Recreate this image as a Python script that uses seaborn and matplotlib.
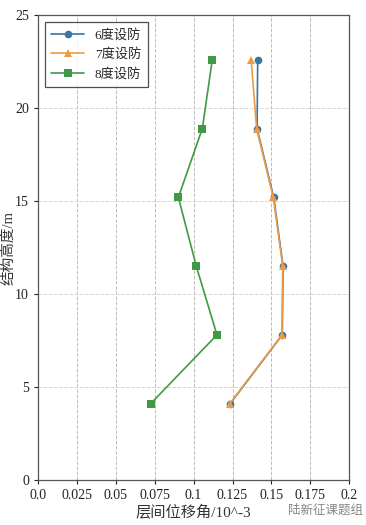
import numpy as np
import pandas as pd
import matplotlib
matplotlib.use('Agg')
import matplotlib.pyplot as plt
import seaborn as sns

heights = [4.1, 7.8, 11.5, 15.2, 18.9, 22.6]
drift_6 = [0.1235, 0.1570, 0.1575, 0.1515, 0.1408, 0.1412]
drift_7 = [0.1232, 0.1568, 0.1573, 0.1512, 0.1405, 0.1370]
drift_8 = [0.0724, 0.1150, 0.1017, 0.0902, 0.1056, 0.1120]
labels = ['6度设防', '7度设防', '8度设防']
x_ticks = [0.0, 0.025, 0.05, 0.075, 0.1, 0.125, 0.15, 0.175, 0.2]
x_ticklabels = ['0.0', '0.025', '0.05', '0.075', '0.1', '0.125', '0.15', '0.175', '0.2']
y_ticks = [0, 5, 10, 15, 20, 25]

rows = []
for lab, vals in zip(labels, [drift_6, drift_7, drift_8]):
    for h, v in zip(heights, vals):
        rows.append({'level': lab, 'drift': v, 'height': h})
df = pd.DataFrame(rows)

sns.set_style('ticks')
fonts = ['Liberation Serif', 'Noto Sans CJK SC', 'DejaVu Sans']
plt.rcParams['font.family'] = fonts

fig = plt.figure(figsize=(3.66, 5.25), dpi=100)
ax = fig.add_axes([0.104, 0.086, 0.850, 0.885])

palette = ['#3b75a0', '#ee9a45', '#3e9a45']
sns.lineplot(data=df, x='drift', y='height', hue='level', style='level',
             markers=['o', '^', 's'], dashes=False, sort=False, orient='y',
             palette=palette, markersize=5.5, linewidth=1.2, markeredgewidth=0,
             ax=ax)

ax.set_xlim(0, 0.2)
ax.set_ylim(0, 25)
ax.set_xticks(x_ticks)
ax.set_xticklabels(x_ticklabels)
ax.set_yticks(y_ticks)
ax.tick_params(labelsize=10, length=3, colors='#222222', direction='out')
ax.grid(True, axis='x', linestyle='--', color='#bbbbbb', linewidth=0.7)
ax.grid(True, axis='y', linestyle='--', color='#d6d6d6', linewidth=0.7)
for s in ax.spines.values():
    s.set_color('#555555')
    s.set_linewidth(0.9)

ax.set_xlabel('层间位移角/10^-3', fontsize=11, color='#333333', labelpad=2)
ax.set_ylabel('结构高度/m', fontsize=10.5, color='#333333')
ax.yaxis.set_label_coords(-0.072, 0.5)

leg = ax.legend(loc='upper left', fontsize=9.5, frameon=True, fancybox=False,
                borderpad=0.5, handlelength=2.5, labelspacing=0.5)
leg.get_frame().set_edgecolor('#222222')
leg.get_frame().set_linewidth(0.9)

fig.text(0.89, 0.015, '陆新征课题组', fontsize=9, color='#888888',
         ha='center', va='bottom', family=['Noto Sans CJK SC'])

fig.savefig('out.png', dpi=100)
